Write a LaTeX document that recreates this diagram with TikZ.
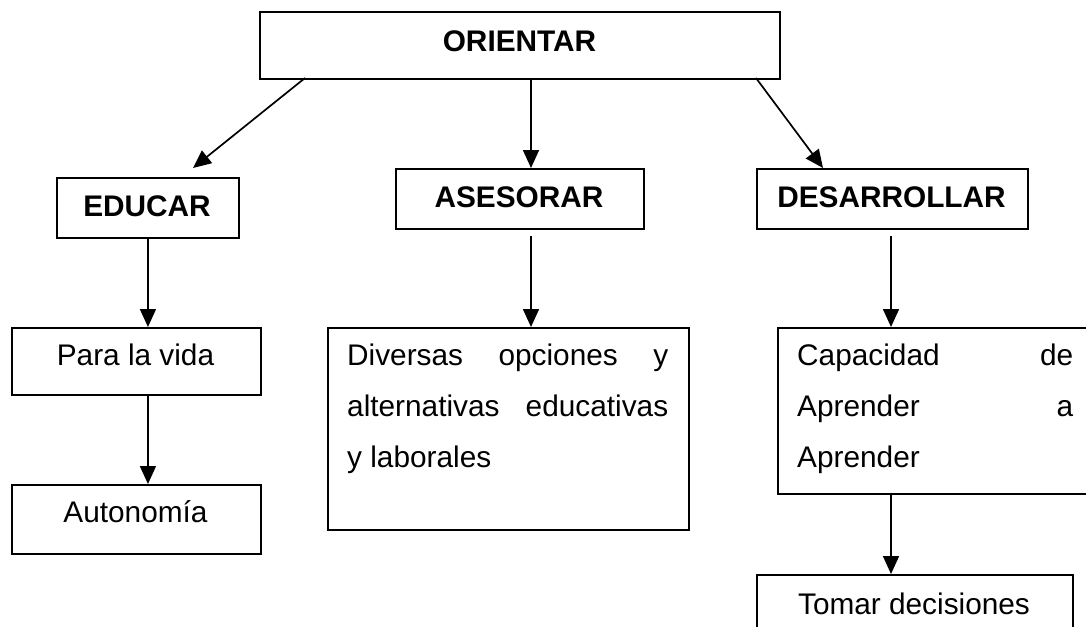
\documentclass[tikz,border=0pt]{standalone}
\usepackage{fontspec}
\setmainfont{Liberation Sans}
\usetikzlibrary{arrows.meta}
\tikzset{
  box/.style={draw=black, line width=1.9pt, rectangle, inner sep=0pt, anchor=north west},
  txt/.style={inner sep=0pt, anchor=base, font=\fontsize{29.8pt}{51pt}\selectfont},
  btxt/.style={txt, font=\fontsize{29.8pt}{51pt}\selectfont\bfseries},
  jtxt/.style={inner sep=0pt, anchor=base west, font=\fontsize{29.8pt}{51pt}\selectfont},
  arr/.style={draw=black, line width=1.7pt, -{Triangle[length=18pt,width=16pt]}}
}
\begin{document}
\begin{tikzpicture}[x=1pt,y=-1pt]
\useasboundingbox (0,0) rectangle (1086,626);
\clip (0,0) rectangle (1086,626);
% boxes
\node[box, minimum width=520pt, minimum height=67pt] (orient) at (259,11) {};
\node[box, minimum width=182pt, minimum height=60pt] (educar) at (56,177) {};
\node[box, minimum width=248pt, minimum height=60pt] (asesorar) at (395,168) {};
\node[box, minimum width=271pt, minimum height=60pt] (desarrollar) at (756,168) {};
\node[box, minimum width=249pt, minimum height=67pt] (vida) at (11,327) {};
\node[box, minimum width=249pt, minimum height=69pt] (autonomia) at (11,484) {};
\node[box, minimum width=361pt, minimum height=202pt] (diversas) at (327,327) {};
\node[box, minimum width=320pt, minimum height=166pt] (capacidad) at (777,327) {};
\node[box, minimum width=316pt, minimum height=70pt] (tomar) at (756,574) {};
% texts
\node[btxt] (torient) at (519.5,52) {ORIENTAR};
\node[btxt] (teducar) at (147,216) {EDUCAR};
\node[btxt] (tasesorar) at (519,207) {ASESORAR};
\node[btxt] (tdesarrollar) at (891.5,207) {DESARROLLAR};
\node[txt] (tvida) at (135.5,365) {Para la vida};
\node[txt] (tautonomia) at (135.5,522) {Autonomía};
\node[jtxt] (tdiv1) at (347,365) {\hbox to 321pt{Diversas\hfill opciones\hfill y}};
\node[jtxt] (tdiv2) at (347,416) {\hbox to 321pt{alternativas\hfill educativas}};
\node[jtxt] (tdiv3) at (347,467) {y laborales};
\node[jtxt] (tcap1) at (797,365) {\hbox to 276pt{Capacidad\hfill de}};
\node[jtxt] (tcap2) at (797,416) {\hbox to 276pt{Aprender\hfill a}};
\node[jtxt] (tcap3) at (797,467) {Aprender};
\node[txt] (ttomar) at (914,614) {Tomar decisiones};
% connector end points
\coordinate (o1) at (305,78);
\coordinate (e1) at (193,168);
\coordinate (o2) at (531,78);
\coordinate (o3) at (756,78);
\coordinate (d1) at (823,168);
\coordinate (a1) at (531,236);
\coordinate (da1) at (891,236);
% connectors
\draw[arr] (o1) -- (e1);
\draw[arr] (o2) -- (o2 |- asesorar.north);
\draw[arr] (o3) -- (d1);
\draw[arr] (educar.south) -- (educar.south |- vida.north);
\draw[arr] (vida.south -| educar.south) -- (educar.south |- autonomia.north);
\draw[arr] (a1) -- (a1 |- diversas.north);
\draw[arr] (da1) -- (da1 |- capacidad.north);
\draw[arr] (capacidad.south -| da1) -- (da1 |- tomar.north);
\end{tikzpicture}
\end{document}
